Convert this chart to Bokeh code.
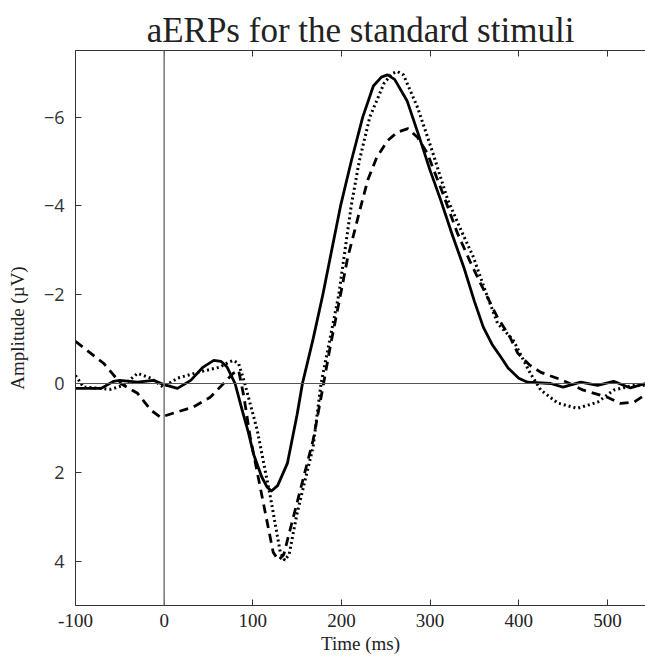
from bokeh.plotting import figure
from bokeh.models import LinearAxis, FixedTicker, Span, Range1d
from bokeh.embed import file_html
from bokeh.resources import INLINE

# ---- data (time in ms, amplitude in microvolts) ----
solid_t = [-100, -71, -57, -50, -30, -12, -1, 15, 30, 44, 56, 64, 71, 80, 88, 95, 101,
           110, 116, 121, 128, 139, 150, 156, 168, 179, 189, 199, 211, 224, 236, 245, 252,
           260, 274, 287, 300, 312, 325, 338, 350, 360, 370, 380, 388, 400, 410, 436, 450,
           470, 489, 507, 526, 543]
solid_v = [0.11, 0.11, -0.05, -0.07, -0.03, -0.07, 0.02, 0.11, -0.07, -0.37, -0.52, -0.5,
           -0.37, 0.0, 0.6, 1.1, 1.6, 2.1, 2.33, 2.42, 2.3, 1.8, 0.7, 0.0, -1.0, -2.0, -3.0,
           -4.0, -5.0, -6.0, -6.7, -6.9, -6.95, -6.85, -6.37, -5.6, -4.8, -4.13, -3.35, -2.62,
           -1.85, -1.27, -0.88, -0.59, -0.35, -0.12, -0.03, 0.0, 0.08, -0.03, 0.04, -0.05,
           0.1, 0.0]

dotted_t = [-100, -91, -60, -46, -30, -15, -1, 15, 38, 63, 72, 78, 84, 90, 105, 120, 131,
            136, 141, 150, 168, 177, 187, 197, 204, 211, 220, 232, 248, 257, 263, 270, 286,
            303, 320, 335, 349, 362, 376, 394, 413, 425, 444, 466, 489, 507, 530, 543]
dotted_v = [-0.18, 0.08, 0.13, 0.04, -0.23, -0.12, 0.08, -0.12, -0.25, -0.37, -0.47, -0.52,
            -0.45, -0.07, 1.05, 2.57, 3.8, 3.98, 3.85, 2.92, 1.43, 0.0, -1.0, -2.0, -3.0,
            -4.0, -5.0, -6.0, -6.76, -6.98, -7.03, -6.95, -6.21, -5.2, -4.13, -3.45, -2.84,
            -2.1, -1.36, -0.97, -0.23, 0.15, 0.44, 0.56, 0.42, 0.15, 0.04, 0.04]

dashed_t = [-100, -68, -49, -30, -15, -4, 10, 33, 52, 67, 78, 84, 90, 97, 109, 123, 129,
            135, 142, 168, 178, 188, 198, 207, 215, 222, 230, 240, 252, 263, 275, 286, 297,
            314, 331, 345, 357, 376, 390, 399, 412, 425, 450, 473, 500, 515, 530, 543]
dashed_v = [-0.95, -0.45, 0.0, 0.22, 0.6, 0.76, 0.67, 0.53, 0.31, 0.0, -0.23, -0.3, 0.3,
            1.2, 2.4, 3.8, 3.98, 3.85, 3.3, 1.28, 0.2, -0.9, -1.9, -2.83, -3.45, -4.0,
            -4.6, -5.1, -5.47, -5.66, -5.74, -5.54, -5.18, -4.3, -3.38, -2.75, -2.25, -1.49,
            -1.05, -0.68, -0.42, -0.25, -0.07, 0.15, 0.31, 0.45, 0.42, 0.25]

x_ticks = [-100, 0, 100, 200, 300, 400, 500]
x_tick_labels = ["-100", "0", "100", "200", "300", "400", "500"]
y_ticks = [-6, -4, -2, 0, 2, 4]
y_tick_labels = ["\u22126", "\u22124", "\u22122", "0", "2", "4"]

SERIF = "Liberation Serif"
SANS = "Open Sans"

p = figure(width=645, height=658, output_backend="svg", toolbar_location=None,
           x_range=Range1d(-100, 543), y_range=Range1d(5, -7.5),
           min_border_left=75, min_border_right=0, min_border_top=50,
           min_border_bottom=53, background_fill_color="white",
           border_fill_color="white")
p.outline_line_color = None
p.grid.visible = False

p.title.text = "aERPs for the standard stimuli"
p.title.text_font = SERIF
p.title.text_font_size = "35px"
p.title.text_font_style = "normal"
p.title.align = "center"
p.title.text_color = "#222222"
p.title.standoff = 1

# bottom axis
xa = p.xaxis[0]
xa.ticker = FixedTicker(ticks=x_ticks)
xa.major_label_overrides = {t: s for t, s in zip(x_ticks, x_tick_labels)}
xa.major_label_text_font = SERIF
xa.major_label_text_font_size = "19px"
xa.major_label_text_color = "#222222"
xa.major_tick_in = 6
xa.major_tick_out = 0
xa.minor_tick_line_color = None
xa.axis_line_color = "#333333"
xa.major_tick_line_color = "#333333"
xa.major_label_standoff = 8
xa.axis_label = "Time (ms)"
xa.axis_label_text_font = SERIF
xa.axis_label_text_font_size = "19px"
xa.axis_label_text_font_style = "normal"
xa.axis_label_text_color = "#222222"
xa.axis_label_standoff = 3

# left axis
ya = p.yaxis[0]
ya.ticker = FixedTicker(ticks=y_ticks)
ya.major_label_overrides = {t: s for t, s in zip(y_ticks, y_tick_labels)}
ya.major_label_text_font = SANS
ya.major_label_text_font_size = "18px"
ya.major_label_text_color = "#333333"
ya.major_tick_in = 6
ya.major_tick_out = 0
ya.minor_tick_line_color = None
ya.axis_line_color = "#333333"
ya.major_tick_line_color = "#333333"
ya.major_label_standoff = 11
ya.axis_label = "Amplitude (\u00b5V)"
ya.axis_label_text_font = SERIF
ya.axis_label_text_font_size = "19px"
ya.axis_label_text_font_style = "normal"
ya.axis_label_text_color = "#222222"
ya.axis_label_standoff = 13

# top axis (ticks only, labels not drawn)
top = LinearAxis(ticker=FixedTicker(ticks=x_ticks), major_tick_in=6, major_tick_out=0,
                 minor_tick_line_color=None, axis_line_color="#333333",
                 major_tick_line_color="#333333", major_label_text_font_size="1px",
                 major_label_text_color=None, major_label_standoff=0)
p.add_layout(top, "above")

# reference lines
p.add_layout(Span(location=0, dimension="width", line_color="#555555", line_width=1.2))
p.add_layout(Span(location=0, dimension="height", line_color="#777777", line_width=1.5))

p.line(solid_t, solid_v, line_color="black", line_width=2.8, line_join="round")
p.line(dotted_t, dotted_v, line_color="black", line_width=3, line_dash="2 3")
p.line(dashed_t, dashed_v, line_color="black", line_width=2.8, line_dash="9 6")

open("out.html", "w").write(file_html(p, INLINE))
